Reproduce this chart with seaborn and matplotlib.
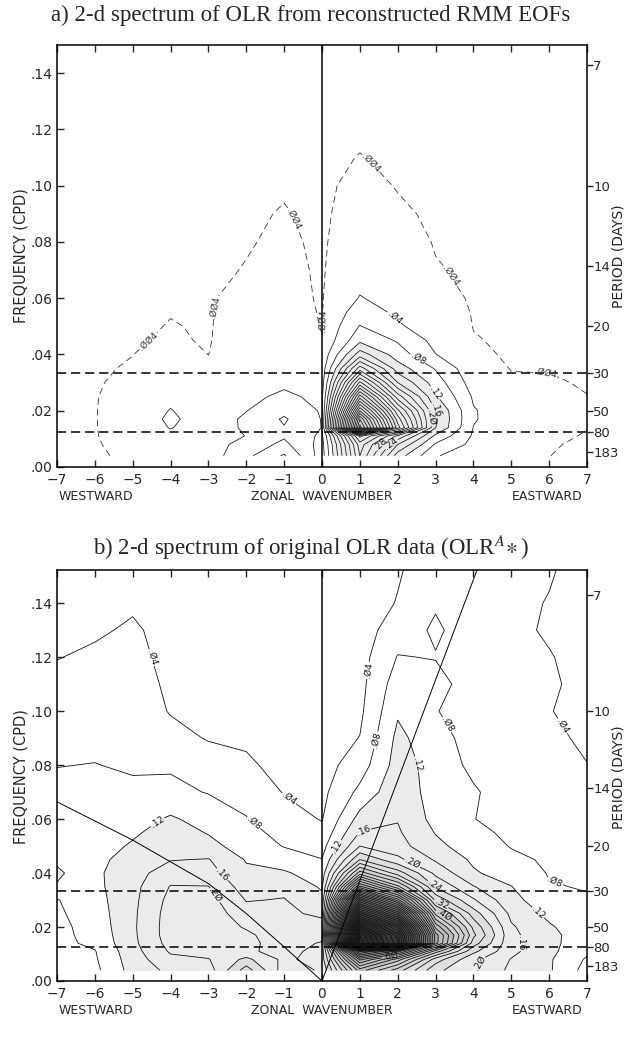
import numpy as np
import matplotlib
matplotlib.use("Agg")
import matplotlib.pyplot as plt
from matplotlib.ticker import FuncFormatter
import seaborn as sns

# ---------------- data ----------------
wavenumbers = [-7, -6, -5, -4, -3, -2, -1, 0, 1, 2, 3, 4, 5, 6, 7]
frequencies = [0.004, 0.008, 0.011, 0.014, 0.017, 0.020, 0.025, 0.030, 0.035,
               0.040, 0.045, 0.050, 0.055, 0.060, 0.070, 0.080, 0.090, 0.100,
               0.110, 0.120, 0.130, 0.140, 0.155]

# panel a: power read per zonal wavenumber (one list per column, low -> high frequency)
a_km7 = [0.002, 0.002, 0.002, 0.002, 0.002, 0.002, 0.002, 0.002, 0.002, 0.002, 0.002, 0.002,
         0.002, 0.002, 0.002, 0.002, 0.002, 0.002, 0.002, 0.002, 0.002, 0.002, 0.002]
a_km6 = [0.002, 0.0028, 0.0032, 0.0034, 0.0034, 0.0034, 0.0032, 0.0026, 0.002, 0.002, 0.002, 0.002,
         0.002, 0.002, 0.002, 0.002, 0.002, 0.002, 0.002, 0.002, 0.002, 0.002, 0.002]
a_km5 = [0.007, 0.009, 0.011, 0.012, 0.012, 0.012, 0.011, 0.008, 0.0055, 0.0038, 0.003, 0.002,
         0.002, 0.002, 0.002, 0.002, 0.002, 0.002, 0.002, 0.002, 0.002, 0.002, 0.002]
a_km4 = [0.015, 0.022, 0.03, 0.042, 0.048, 0.042, 0.03, 0.022, 0.016, 0.011, 0.0052, 0.0045,
         0.0036, 0.003, 0.002, 0.002, 0.002, 0.002, 0.002, 0.002, 0.002, 0.002, 0.002]
a_km3 = [0.02, 0.022, 0.02, 0.018, 0.017, 0.016, 0.013, 0.009, 0.006, 0.0039, 0.0032, 0.003,
         0.003, 0.003, 0.002, 0.002, 0.002, 0.002, 0.002, 0.002, 0.002, 0.002, 0.002]
a_km2 = [0.07, 0.055, 0.041, 0.046, 0.047, 0.039, 0.03, 0.022, 0.017, 0.014, 0.012, 0.011,
         0.01, 0.0075, 0.0045, 0.0032, 0.0028, 0.002, 0.002, 0.002, 0.002, 0.002, 0.002]
a_km1 = [0.125, 0.09, 0.075, 0.078, 0.085, 0.07, 0.048, 0.032, 0.022, 0.016, 0.013, 0.011,
         0.01, 0.009, 0.008, 0.006, 0.0045, 0.0032, 0.002, 0.002, 0.002, 0.002, 0.002]
a_k0 = [0.02, 0.025, 0.032, 0.039, 0.038, 0.036, 0.03, 0.024, 0.018, 0.012, 0.0045, 0.0035,
        0.003, 0.0025, 0.002, 0.002, 0.002, 0.002, 0.002, 0.002, 0.002, 0.002, 0.002]
a_k1 = [0.36, 0.38, 0.45, 0.98, 0.92, 0.8, 0.62, 0.45, 0.3, 0.18, 0.11, 0.082,
        0.06, 0.042, 0.025, 0.015, 0.01, 0.007, 0.0043, 0.0025, 0.002, 0.002, 0.002]
a_k2 = [0.14, 0.2, 0.27, 0.5, 0.46, 0.41, 0.3, 0.2, 0.14, 0.1, 0.076, 0.045,
        0.033, 0.026, 0.015, 0.01, 0.0055, 0.0035, 0.0025, 0.002, 0.002, 0.002, 0.002]
a_k3 = [0.042, 0.075, 0.11, 0.161, 0.165, 0.161, 0.125, 0.1, 0.077, 0.041, 0.028, 0.02,
        0.014, 0.011, 0.0048, 0.0032, 0.0025, 0.002, 0.002, 0.002, 0.002, 0.002, 0.002]
a_k4 = [0.025, 0.03, 0.035, 0.039, 0.043, 0.043, 0.035, 0.022, 0.012, 0.0065, 0.0048, 0.0036,
        0.003, 0.002, 0.002, 0.002, 0.002, 0.002, 0.002, 0.002, 0.002, 0.002, 0.002]
a_k5 = [0.012, 0.015, 0.017, 0.018, 0.018, 0.016, 0.012, 0.006, 0.0035, 0.0025, 0.002, 0.002,
        0.002, 0.002, 0.002, 0.002, 0.002, 0.002, 0.002, 0.002, 0.002, 0.002, 0.002]
a_k6 = [0.0041, 0.0048, 0.0058, 0.0065, 0.007, 0.007, 0.0065, 0.005, 0.0035, 0.002, 0.002, 0.002,
        0.002, 0.002, 0.002, 0.002, 0.002, 0.002, 0.002, 0.002, 0.002, 0.002, 0.002]
a_k7 = [0.002, 0.0025, 0.0034, 0.0042, 0.0048, 0.005, 0.0042, 0.0032, 0.002, 0.002, 0.002, 0.002,
        0.002, 0.002, 0.002, 0.002, 0.002, 0.002, 0.002, 0.002, 0.002, 0.002, 0.002]

# panel b: power of original OLR (one list per column, low -> high frequency)
b_km7 = [0.06, 0.065, 0.068, 0.07, 0.07, 0.07, 0.074, 0.078, 0.119, 0.122, 0.118, 0.112,
         0.105, 0.1, 0.09, 0.079, 0.068, 0.058, 0.048, 0.039, 0.032, 0.03, 0.03]
b_km6 = [0.07, 0.075, 0.078, 0.088, 0.092, 0.095, 0.1, 0.105, 0.11, 0.112, 0.11, 0.105,
         0.1, 0.095, 0.088, 0.081, 0.07, 0.06, 0.05, 0.045, 0.036, 0.032, 0.03]
b_km5 = [0.135, 0.14, 0.145, 0.15, 0.152, 0.153, 0.152, 0.15, 0.148, 0.145, 0.135, 0.124,
         0.115, 0.105, 0.088, 0.075, 0.065, 0.058, 0.052, 0.048, 0.044, 0.036, 0.03]
b_km4 = [0.17, 0.19, 0.205, 0.215, 0.22, 0.22, 0.218, 0.212, 0.202, 0.18, 0.158, 0.145,
         0.135, 0.125, 0.09, 0.075, 0.05, 0.038, 0.035, 0.032, 0.03, 0.03, 0.03]
b_km3 = [0.18, 0.198, 0.215, 0.225, 0.23, 0.23, 0.225, 0.215, 0.201, 0.175, 0.162, 0.13,
         0.118, 0.105, 0.078, 0.055, 0.038, 0.033, 0.03, 0.028, 0.027, 0.026, 0.025]
b_km2 = [0.3, 0.25, 0.21, 0.215, 0.21, 0.195, 0.175, 0.158, 0.14, 0.128, 0.117, 0.105,
         0.095, 0.082, 0.065, 0.045, 0.035, 0.03, 0.028, 0.026, 0.025, 0.025, 0.025]
b_km1 = [0.18, 0.19, 0.18, 0.175, 0.17, 0.165, 0.165, 0.162, 0.15, 0.125, 0.1, 0.078,
         0.065, 0.055, 0.038, 0.03, 0.026, 0.024, 0.022, 0.02, 0.02, 0.02, 0.02]
b_k0 = [0.205, 0.22, 0.22, 0.205, 0.18, 0.17, 0.155, 0.13, 0.115, 0.1, 0.081, 0.065,
        0.05, 0.038, 0.03, 0.025, 0.022, 0.02, 0.02, 0.02, 0.02, 0.02, 0.02]
b_k1 = [0.5, 0.65, 0.85, 1.75, 1.72, 1.6, 1.3, 1.0, 0.65, 0.42, 0.28, 0.2,
        0.162, 0.135, 0.09, 0.06, 0.041, 0.032, 0.028, 0.025, 0.022, 0.02, 0.02]
b_k2 = [0.38, 0.5, 0.7, 1.45, 1.42, 1.3, 1.0, 0.7, 0.45, 0.3, 0.21, 0.175,
        0.165, 0.158, 0.15, 0.137, 0.13, 0.115, 0.1, 0.082, 0.06, 0.042, 0.035]
b_k3 = [0.25, 0.3, 0.42, 0.62, 0.62, 0.55, 0.43, 0.31, 0.235, 0.19, 0.155, 0.13,
        0.118, 0.107, 0.1, 0.105, 0.095, 0.082, 0.095, 0.078, 0.086, 0.076, 0.06]
b_k4 = [0.205, 0.21, 0.25, 0.3, 0.33, 0.31, 0.26, 0.205, 0.162, 0.125, 0.113, 0.1,
        0.09, 0.081, 0.085, 0.07, 0.065, 0.06, 0.06, 0.06, 0.06, 0.06, 0.055]
b_k5 = [0.15, 0.158, 0.17, 0.17, 0.17, 0.165, 0.15, 0.13, 0.121, 0.1, 0.088, 0.078,
        0.072, 0.065, 0.058, 0.055, 0.052, 0.05, 0.05, 0.05, 0.048, 0.05, 0.05]
b_k6 = [0.125, 0.125, 0.13, 0.13, 0.13, 0.125, 0.11, 0.1, 0.082, 0.078, 0.075, 0.072,
        0.07, 0.066, 0.06, 0.05, 0.045, 0.041, 0.045, 0.042, 0.036, 0.038, 0.045]
b_k7 = [0.065, 0.075, 0.088, 0.098, 0.1, 0.095, 0.09, 0.083, 0.078, 0.074, 0.07, 0.065,
        0.06, 0.055, 0.048, 0.0405, 0.036, 0.032, 0.03, 0.028, 0.026, 0.025, 0.025]

# reference dispersion curves drawn on panel b
er_curve_k = [-7, -5, -3, -2, -0.9, 0]
er_curve_f = [0.0664, 0.0522, 0.0361, 0.025, 0.0114, 0.0]
kelvin_k = [0, 4.2]
kelvin_f = [0, 0.1562]

period_ticks = [7, 10, 14, 20, 30, 50, 80, 183]
marked_periods = [30, 80]
freq_ticks = [0.00, 0.02, 0.04, 0.06, 0.08, 0.10, 0.12, 0.14]
title_a = "a) 2-d spectrum of OLR from reconstructed RMM EOFs"
title_b = r"b) 2-d spectrum of original OLR data (OLR$^{A}\!\ast$)"
x_words = ["WESTWARD", "ZONAL  WAVENUMBER", "EASTWARD"]

# ---------------- style ----------------
sns.set_style("ticks")
plt.rcParams['font.family'] = ['DejaVu Sans']
plt.rcParams['mathtext.fontset'] = 'stix'
plt.rcParams['axes.linewidth'] = 1.1

W, H = 624, 1046
fig = plt.figure(figsize=(W / 100, H / 100), dpi=100)
fig.patch.set_facecolor('white')


def fmt(v):
    s = ('%.3f' % v) if v < 0.01 else ('%.2f' % v)
    return s.lstrip('0').replace('0', '\u00d8')


def setup_axes(ax, ytop):
    ax.set_xlim(-7, 7)
    ax.set_ylim(0, ytop)
    ax.set_xticks(wavenumbers)
    ax.set_yticks(freq_ticks)
    ax.yaxis.set_major_formatter(FuncFormatter(lambda v, _: ('%.2f' % v).lstrip('0')))
    ax.tick_params(axis='x', which='both', top=True, bottom=True, direction='in',
                   length=5, width=1, labelsize=10, pad=4)
    ax.tick_params(axis='y', which='both', left=True, right=False, direction='in',
                   length=5, width=1, labelsize=10, pad=3)
    for s in ax.spines.values():
        s.set_linewidth(1.1)
        s.set_color('black')
    ax.axvline(0, color='black', lw=1.1, zorder=4)
    for p in marked_periods:
        ax.axhline(1.0 / p, color='black', lw=1.1, dashes=(6, 3.2), zorder=4)
    ax2 = ax.twinx()
    ax2.set_ylim(0, ytop)
    ax2.set_yticks([1.0 / p for p in period_ticks])
    ax2.set_yticklabels([str(p) for p in period_ticks])
    ax2.tick_params(axis='y', direction='out', length=4, width=1, labelsize=9.5, pad=0.5)
    for s in ax2.spines.values():
        s.set_visible(False)
    return ax2


def draw(ax, cols, line_levels, fill_levels, fill_colors, labels, lw=0.55,
         dashed=None, dlabels=()):
    Z = np.column_stack(cols)
    K, F = np.meshgrid(wavenumbers, frequencies)
    ax.contourf(K, F, Z, levels=fill_levels, colors=fill_colors, zorder=1)
    sets = {}
    for lev in line_levels:
        if lev >= Z.max():
            continue
        sets[round(lev, 3)] = ax.contour(K, F, Z, levels=[lev], colors='#111111',
                                         linewidths=lw, zorder=2)
    for lev, x, y in labels:
        cs = sets.get(round(lev, 3))
        if cs is None:
            continue
        try:
            cs.clabel(manual=[(x, y)], inline=True, inline_spacing=1, fmt=fmt, fontsize=6.5)
        except Exception:
            pass
    if dashed is not None:
        csd = ax.contour(K, F, Z, levels=[dashed], colors='#333333', linewidths=0.6, zorder=2)
        csd.set_linestyle((0, (8, 5)))
        for x, y in dlabels:
            try:
                csd.clabel(manual=[(x, y)], inline=True, inline_spacing=1, fmt=fmt, fontsize=6.5)
            except Exception:
                pass


# ---------------- panel a ----------------
axA = fig.add_axes([57 / W, 1 - 467 / H, 530 / W, 422 / H])
setup_axes(axA, 0.150)
levels_a = np.round(np.arange(0.04, 1.0001, 0.04), 2)
draw(axA,
     [a_km7, a_km6, a_km5, a_km4, a_km3, a_km2, a_km1, a_k0, a_k1, a_k2, a_k3, a_k4, a_k5, a_k6, a_k7],
     levels_a, [0.12, 0.5, 0.8, 5.0], ['#ebebeb', '#dedede', '#cfcfcf'],
     labels=[(0.04, 1.9, 0.053), (0.08, 2.55, 0.039), (0.12, 2.95, 0.026),
             (0.16, 2.9, 0.0195), (0.20, 2.6, 0.017),
             (0.28, 1.3, 0.0105), (0.24, 1.75, 0.0100)],
     dashed=0.004,
     dlabels=[(-4.6, 0.045), (-2.55, 0.056), (-0.8, 0.088), (0.1, 0.052),
              (1.3, 0.108), (3.4, 0.068), (5.9, 0.033)])

# ---------------- panel b ----------------
axB = fig.add_axes([57 / W, 1 - 981 / H, 530 / W, 411 / H])
setup_axes(axB, 0.1523)
levels_b = np.round(np.arange(0.04, 1.7201, 0.04), 2)
draw(axB,
     [b_km7, b_km6, b_km5, b_km4, b_km3, b_km2, b_km1, b_k0, b_k1, b_k2, b_k3, b_k4, b_k5, b_k6, b_k7],
     levels_b,
     [0.12, 0.24, 0.36, 0.48, 0.6, 0.72, 0.84, 0.96, 1.1, 1.25, 1.4, 1.55, 3.0],
     ['#ebebeb', '#dfdfdf', '#d0d0d0', '#bfbfbf', '#ababab', '#959595',
      '#7e7e7e', '#686868', '#545454', '#434343', '#363636', '#2a2a2a'],
     lw=0.6,
     labels=[(0.04, -4.95, 0.118), (0.04, -0.8, 0.069), (0.08, -1.9, 0.057),
             (0.12, -4.4, 0.06), (0.16, -2.6, 0.04), (0.20, -2.8, 0.032),
             (0.04, 1.3, 0.115), (0.08, 1.5, 0.089), (0.08, 3.3, 0.095),
             (0.04, 6.3, 0.094), (0.12, 2.45, 0.08), (0.12, 0.35, 0.05),
             (0.16, 1.1, 0.055), (0.20, 2.4, 0.044), (0.08, 6.1, 0.035),
             (0.12, 5.75, 0.026), (0.16, 5.3, 0.014), (0.20, 4.3, 0.006),
             (0.24, 3.0, 0.036), (0.32, 3.2, 0.030), (0.40, 3.3, 0.026),
             (0.60, 1.8, 0.009)])
sns.lineplot(x=er_curve_k, y=er_curve_f, ax=axB, color='black', linewidth=0.7,
             sort=False, estimator=None, legend=False)
sns.lineplot(x=kelvin_k, y=kelvin_f, ax=axB, color='black', linewidth=0.7,
             sort=False, estimator=None, legend=False)
axB.set_xlim(-7, 7)
axB.set_ylim(0, 0.1523)
axB.set_xlabel('')
axB.set_ylabel('')

# ---------------- texts ----------------
fig.text(311 / W, 1 - 15 / H, title_a, ha='center', va='center',
         fontsize=16.5, family='Liberation Serif')
fig.text(311 / W, 1 - 548 / H, title_b, ha='center', va='center',
         fontsize=16.5, family='Liberation Serif')
for yc in (256, 777):
    fig.text(21 / W, 1 - yc / H, 'FREQUENCY (CPD)', rotation=90, ha='center',
             va='center', fontsize=10.5)
    fig.text(618 / W, 1 - yc / H, 'PERIOD (DAYS)', rotation=90, ha='center',
             va='center', fontsize=10)
for yc in (496, 1011):
    for word, xc in zip(x_words, (96, 322, 547)):
        fig.text(xc / W, 1 - yc / H, word, ha='center', va='center', fontsize=9)

fig.savefig('out.png', dpi=100, facecolor='white')
